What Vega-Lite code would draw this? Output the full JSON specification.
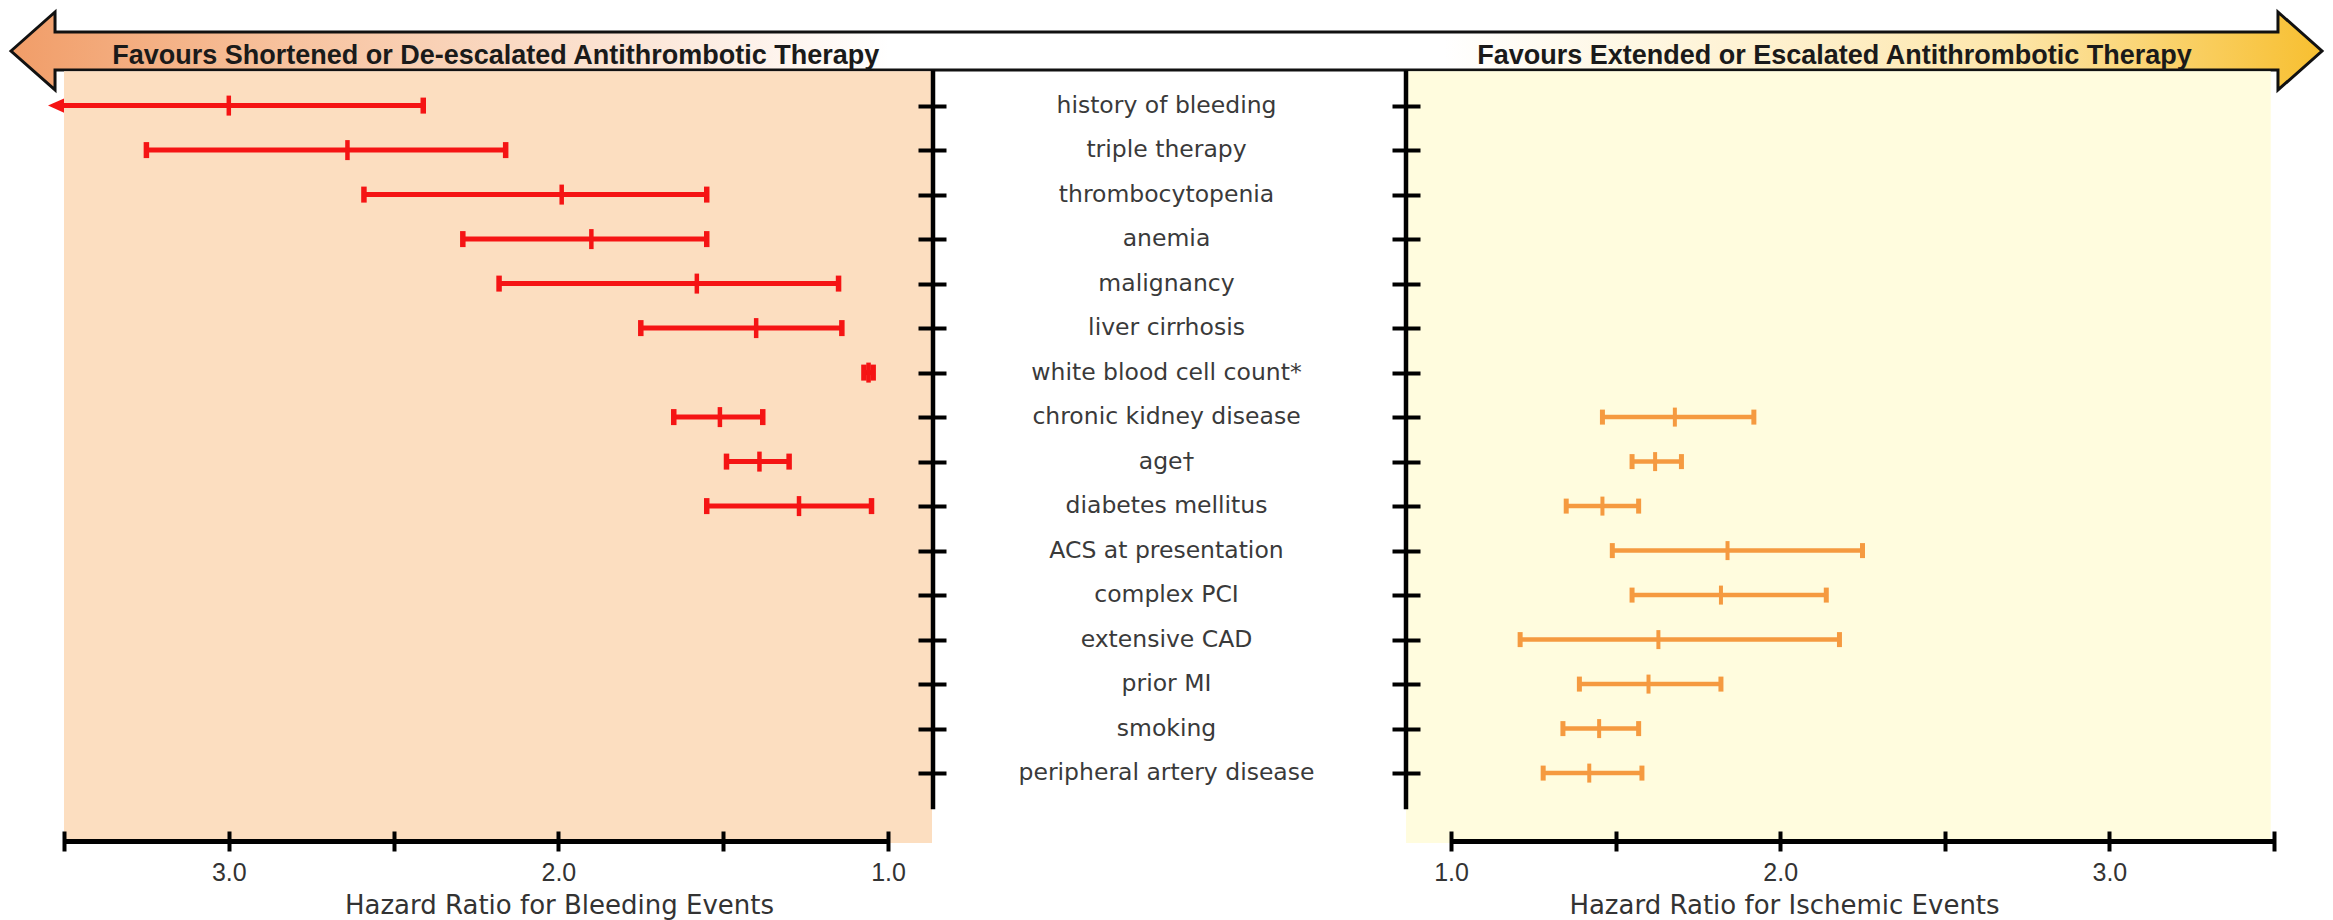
{
  "$schema": "https://vega.github.io/schema/vega-lite/v6.json",
  "width": 2333,
  "height": 920,
  "padding": 0,
  "autosize": "none",
  "background": "white",
  "config": {"view": {"stroke": null}},
  "datasets": {
    "factors": [
      {"row": 1, "factor": "history of bleeding"},
      {"row": 2, "factor": "triple therapy"},
      {"row": 3, "factor": "thrombocytopenia"},
      {"row": 4, "factor": "anemia"},
      {"row": 5, "factor": "malignancy"},
      {"row": 6, "factor": "liver cirrhosis"},
      {"row": 7, "factor": "white blood cell count*"},
      {"row": 8, "factor": "chronic kidney disease"},
      {"row": 9, "factor": "age\u2020"},
      {"row": 10, "factor": "diabetes mellitus"},
      {"row": 11, "factor": "ACS at presentation"},
      {"row": 12, "factor": "complex PCI"},
      {"row": 13, "factor": "extensive CAD"},
      {"row": 14, "factor": "prior MI"},
      {"row": 15, "factor": "smoking"},
      {"row": 16, "factor": "peripheral artery disease"}
    ],
    "bleeding": [
      {"row": 1, "factor": "history of bleeding", "hr": 3.0, "lo": 2.41, "hi": 3.5, "hi_open": true},
      {"row": 2, "factor": "triple therapy", "hr": 2.64, "lo": 2.16, "hi": 3.25, "hi_open": false},
      {"row": 3, "factor": "thrombocytopenia", "hr": 1.99, "lo": 1.55, "hi": 2.59, "hi_open": false},
      {"row": 4, "factor": "anemia", "hr": 1.9, "lo": 1.55, "hi": 2.29, "hi_open": false},
      {"row": 5, "factor": "malignancy", "hr": 1.58, "lo": 1.15, "hi": 2.18, "hi_open": false},
      {"row": 6, "factor": "liver cirrhosis", "hr": 1.4, "lo": 1.14, "hi": 1.75, "hi_open": false},
      {"row": 7, "factor": "white blood cell count*", "hr": 1.059, "lo": 1.045, "hi": 1.073, "hi_open": false},
      {"row": 8, "factor": "chronic kidney disease", "hr": 1.51, "lo": 1.38, "hi": 1.65, "hi_open": false},
      {"row": 9, "factor": "age\u2020", "hr": 1.39, "lo": 1.3, "hi": 1.49, "hi_open": false},
      {"row": 10, "factor": "diabetes mellitus", "hr": 1.27, "lo": 1.05, "hi": 1.55, "hi_open": false}
    ],
    "ischemic": [
      {"row": 8, "factor": "chronic kidney disease", "hr": 1.68, "lo": 1.46, "hi": 1.92},
      {"row": 9, "factor": "age\u2020", "hr": 1.62, "lo": 1.55, "hi": 1.7},
      {"row": 10, "factor": "diabetes mellitus", "hr": 1.46, "lo": 1.35, "hi": 1.57},
      {"row": 11, "factor": "ACS at presentation", "hr": 1.84, "lo": 1.49, "hi": 2.25},
      {"row": 12, "factor": "complex PCI", "hr": 1.82, "lo": 1.55, "hi": 2.14},
      {"row": 13, "factor": "extensive CAD", "hr": 1.63, "lo": 1.21, "hi": 2.18},
      {"row": 14, "factor": "prior MI", "hr": 1.6, "lo": 1.39, "hi": 1.82},
      {"row": 15, "factor": "smoking", "hr": 1.45, "lo": 1.34, "hi": 1.57},
      {"row": 16, "factor": "peripheral artery disease", "hr": 1.42, "lo": 1.28, "hi": 1.58}
    ]
  },
  "resolve": {"scale": {"x": "independent"}, "axis": {"x": "independent", "y": "independent"}},
  "layer": [
    {
      "data": {"values": [{"arrow": "both directions"}]},
      "mark": {
        "type": "point",
        "shape": "M -1 0 L -0.9619 -0.03375 L -0.9619 -0.01644 L 0.9619 -0.01644 L 0.9619 -0.03375 L 1 0 L 0.9619 0.03375 L 0.9619 0.01644 L -0.9619 0.01644 L -0.9619 0.03375 Z",
        "size": 5340721,
        "filled": true,
        "opacity": 1,
        "fill": {
          "gradient": "linear",
          "x1": 0, "y1": 0, "x2": 1, "y2": 0,
          "stops": [
            {"offset": 0, "color": "#f19d68"},
            {"offset": 0.12, "color": "#f7c29e"},
            {"offset": 0.38, "color": "#ffffff"},
            {"offset": 0.62, "color": "#ffffff"},
            {"offset": 0.86, "color": "#fde7ad"},
            {"offset": 1, "color": "#f7bf30"}
          ]
        },
        "stroke": "#111111",
        "strokeWidth": 3,
        "strokeJoin": "miter"
      },
      "encoding": {
        "y": {"datum": -0.227, "type": "quantitative", "scale": {"domain": [0.2, 16.8], "range": [70, 808.7], "nice": false, "zero": false}, "axis": null}
      }
    },
    {
      "data": {"name": "bleeding"},
      "resolve": {"axis": {"x": "independent", "y": "independent"}},
      "layer": [
        {
          "data": {"values": [{"panel": "bleeding"}]},
          "mark": {"type": "rect", "fill": "#fcdec0"},
          "encoding": {
            "x": {"datum": 3.5, "type": "quantitative", "scale": {"domain": [1, 3.5], "range": [888, 64], "nice": false, "zero": false}, "axis": null},
            "x2": {"datum": 0.8665},
            "y": {"datum": 0.23, "type": "quantitative", "scale": {"domain": [0.2, 16.8], "range": [70, 808.7], "nice": false, "zero": false}, "axis": null},
            "y2": {"datum": 17.57}
          }
        },
        {
          "mark": {"type": "rule", "color": "#f51414", "strokeWidth": 5},
          "encoding": {
            "x": {"field": "lo", "type": "quantitative", "scale": {"domain": [1, 3.5], "range": [888, 64], "nice": false, "zero": false},
              "axis": {"orient": "bottom", "offset": -79, "values": [3, 2, 1], "format": ".1f", "domain": true, "domainColor": "#000000", "domainWidth": 5, "ticks": false, "tickSize": 0, "grid": false, "labelFont": "Liberation Sans", "labelFontSize": 25, "labelColor": "#333333", "labelPadding": 19, "labelFlush": false, "labelOverlap": false, "title": "Hazard Ratio for Bleeding Events", "titleFont": "DejaVu Sans", "titleFontSize": 26, "titleFontWeight": "normal", "titleColor": "#333333", "titleX": 559, "titleY": 72, "titleBaseline": "alphabetic", "titleAlign": "center", "zindex": 2}},
            "x2": {"field": "hi"},
            "y": {"field": "row", "type": "quantitative", "scale": {"domain": [0.2, 16.8], "range": [70, 808.7], "nice": false, "zero": false},
              "axis": {"orient": "left", "offset": -946, "values": [1, 2, 3, 4, 5, 6, 7, 8, 9, 10, 11, 12, 13, 14, 15, 16], "domain": false, "labels": false, "ticks": true, "tickSize": 28, "tickWidth": 4, "tickColor": "#000000", "grid": false, "title": null, "zindex": 2}}
          }
        },
        {
          "mark": {"type": "tick", "orient": "vertical", "color": "#f51414", "thickness": 5.5, "size": 16, "opacity": 1},
          "encoding": {
            "x": {"field": "lo", "type": "quantitative",
              "axis": {"orient": "bottom", "offset": -89, "values": [3.5, 3, 2.5, 2, 1.5, 1], "domain": false, "labels": false, "ticks": true, "tickSize": 20, "tickWidth": 4, "tickColor": "#000000", "grid": false, "title": null, "zindex": 2}},
            "y": {"field": "row", "type": "quantitative",
              "axis": {"orient": "left", "offset": -932.5, "values": [1, 2, 3, 4, 5, 6, 7, 8, 9, 10, 11, 12, 13, 14, 15, 16], "domain": true, "domainWidth": 4.5, "domainColor": "#000000", "ticks": false, "labels": false, "grid": false, "title": null, "zindex": 2}}
          }
        },
        {
          "transform": [{"filter": "datum.hi_open != true"}],
          "mark": {"type": "tick", "orient": "vertical", "color": "#f51414", "thickness": 5.5, "size": 16, "opacity": 1},
          "encoding": {
            "x": {"field": "hi", "type": "quantitative", "axis": null},
            "y": {"field": "row", "type": "quantitative", "axis": null}
          }
        },
        {
          "mark": {"type": "tick", "orient": "vertical", "color": "#f51414", "thickness": 4.5, "size": 20, "opacity": 1},
          "encoding": {
            "x": {"field": "hr", "type": "quantitative", "axis": null},
            "y": {"field": "row", "type": "quantitative", "axis": null}
          }
        },
        {
          "transform": [{"filter": "datum.hi_open == true"}],
          "mark": {"type": "point", "shape": "M 0 -0.9 L -2 0 L 0 0.9 Z", "size": 256, "filled": true, "color": "#f51414", "opacity": 1},
          "encoding": {
            "x": {"field": "hi", "type": "quantitative", "axis": null},
            "y": {"field": "row", "type": "quantitative", "axis": null}
          }
        },
        {
          "data": {"values": [{"text": "Favours Shortened or De-escalated Antithrombotic Therapy"}]},
          "mark": {"type": "text", "font": "Liberation Sans", "fontWeight": "bold", "fontSize": 27, "color": "#1a1a1a", "align": "center", "baseline": "alphabetic"},
          "encoding": {
            "x": {"datum": 2.19, "type": "quantitative", "axis": null},
            "y": {"datum": 0.054, "type": "quantitative", "axis": null},
            "text": {"field": "text"}
          }
        }
      ]
    },
    {
      "data": {"name": "ischemic"},
      "resolve": {"axis": {"x": "independent", "y": "independent"}},
      "layer": [
        {
          "data": {"values": [{"panel": "ischemic"}]},
          "mark": {"type": "rect", "fill": "#fffcde"},
          "encoding": {
            "x": {"datum": 0.8634, "type": "quantitative", "scale": {"domain": [1, 3.5], "range": [1451, 2274], "nice": false, "zero": false}, "axis": null},
            "x2": {"datum": 3.49},
            "y": {"datum": 0.23, "type": "quantitative", "scale": {"domain": [0.2, 16.8], "range": [70, 808.7], "nice": false, "zero": false}, "axis": null},
            "y2": {"datum": 17.57}
          }
        },
        {
          "mark": {"type": "rule", "color": "#f59a40", "strokeWidth": 4.5},
          "encoding": {
            "x": {"field": "lo", "type": "quantitative", "scale": {"domain": [1, 3.5], "range": [1451, 2274], "nice": false, "zero": false},
              "axis": {"orient": "bottom", "offset": -79, "values": [1, 2, 3], "format": ".1f", "domain": true, "domainColor": "#000000", "domainWidth": 5, "ticks": false, "tickSize": 0, "grid": false, "labelFont": "Liberation Sans", "labelFontSize": 25, "labelColor": "#333333", "labelPadding": 19, "labelFlush": false, "labelOverlap": false, "title": "Hazard Ratio for Ischemic Events", "titleFont": "DejaVu Sans", "titleFontSize": 26, "titleFontWeight": "normal", "titleColor": "#333333", "titleX": 1784, "titleY": 72, "titleBaseline": "alphabetic", "titleAlign": "center", "zindex": 2}},
            "x2": {"field": "hi"},
            "y": {"field": "row", "type": "quantitative", "scale": {"domain": [0.2, 16.8], "range": [70, 808.7], "nice": false, "zero": false},
              "axis": {"orient": "left", "offset": -1420, "values": [1, 2, 3, 4, 5, 6, 7, 8, 9, 10, 11, 12, 13, 14, 15, 16], "domain": false, "labels": false, "ticks": true, "tickSize": 28, "tickWidth": 4, "tickColor": "#000000", "grid": false, "title": null, "zindex": 2}}
          }
        },
        {
          "mark": {"type": "tick", "orient": "vertical", "color": "#f59a40", "thickness": 5, "size": 15, "opacity": 1},
          "encoding": {
            "x": {"field": "lo", "type": "quantitative",
              "axis": {"orient": "bottom", "offset": -89, "values": [1, 1.5, 2, 2.5, 3, 3.5], "domain": false, "labels": false, "ticks": true, "tickSize": 20, "tickWidth": 4, "tickColor": "#000000", "grid": false, "title": null, "zindex": 2}},
            "y": {"field": "row", "type": "quantitative",
              "axis": {"orient": "left", "offset": -1405.5, "values": [1, 2, 3, 4, 5, 6, 7, 8, 9, 10, 11, 12, 13, 14, 15, 16], "domain": true, "domainWidth": 4.5, "domainColor": "#000000", "ticks": false, "labels": false, "grid": false, "title": null, "zindex": 2}}
          }
        },
        {
          "mark": {"type": "tick", "orient": "vertical", "color": "#f59a40", "thickness": 5, "size": 15, "opacity": 1},
          "encoding": {
            "x": {"field": "hi", "type": "quantitative", "axis": null},
            "y": {"field": "row", "type": "quantitative", "axis": null}
          }
        },
        {
          "mark": {"type": "tick", "orient": "vertical", "color": "#f59a40", "thickness": 4, "size": 19, "opacity": 1},
          "encoding": {
            "x": {"field": "hr", "type": "quantitative", "axis": null},
            "y": {"field": "row", "type": "quantitative", "axis": null}
          }
        },
        {
          "data": {"values": [{"text": "Favours Extended or Escalated Antithrombotic Therapy"}]},
          "mark": {"type": "text", "font": "Liberation Sans", "fontWeight": "bold", "fontSize": 27, "color": "#1a1a1a", "align": "center", "baseline": "alphabetic"},
          "encoding": {
            "x": {"datum": 2.165, "type": "quantitative", "axis": null},
            "y": {"datum": 0.054, "type": "quantitative", "axis": null},
            "text": {"field": "text"}
          }
        }
      ]
    },
    {
      "data": {"name": "factors"},
      "mark": {"type": "text", "font": "DejaVu Sans", "fontSize": 23.5, "color": "#3a3a3a", "align": "center", "baseline": "middle"},
      "encoding": {
        "y": {"field": "row", "type": "quantitative", "axis": null},
        "text": {"field": "factor"}
      }
    }
  ]
}
